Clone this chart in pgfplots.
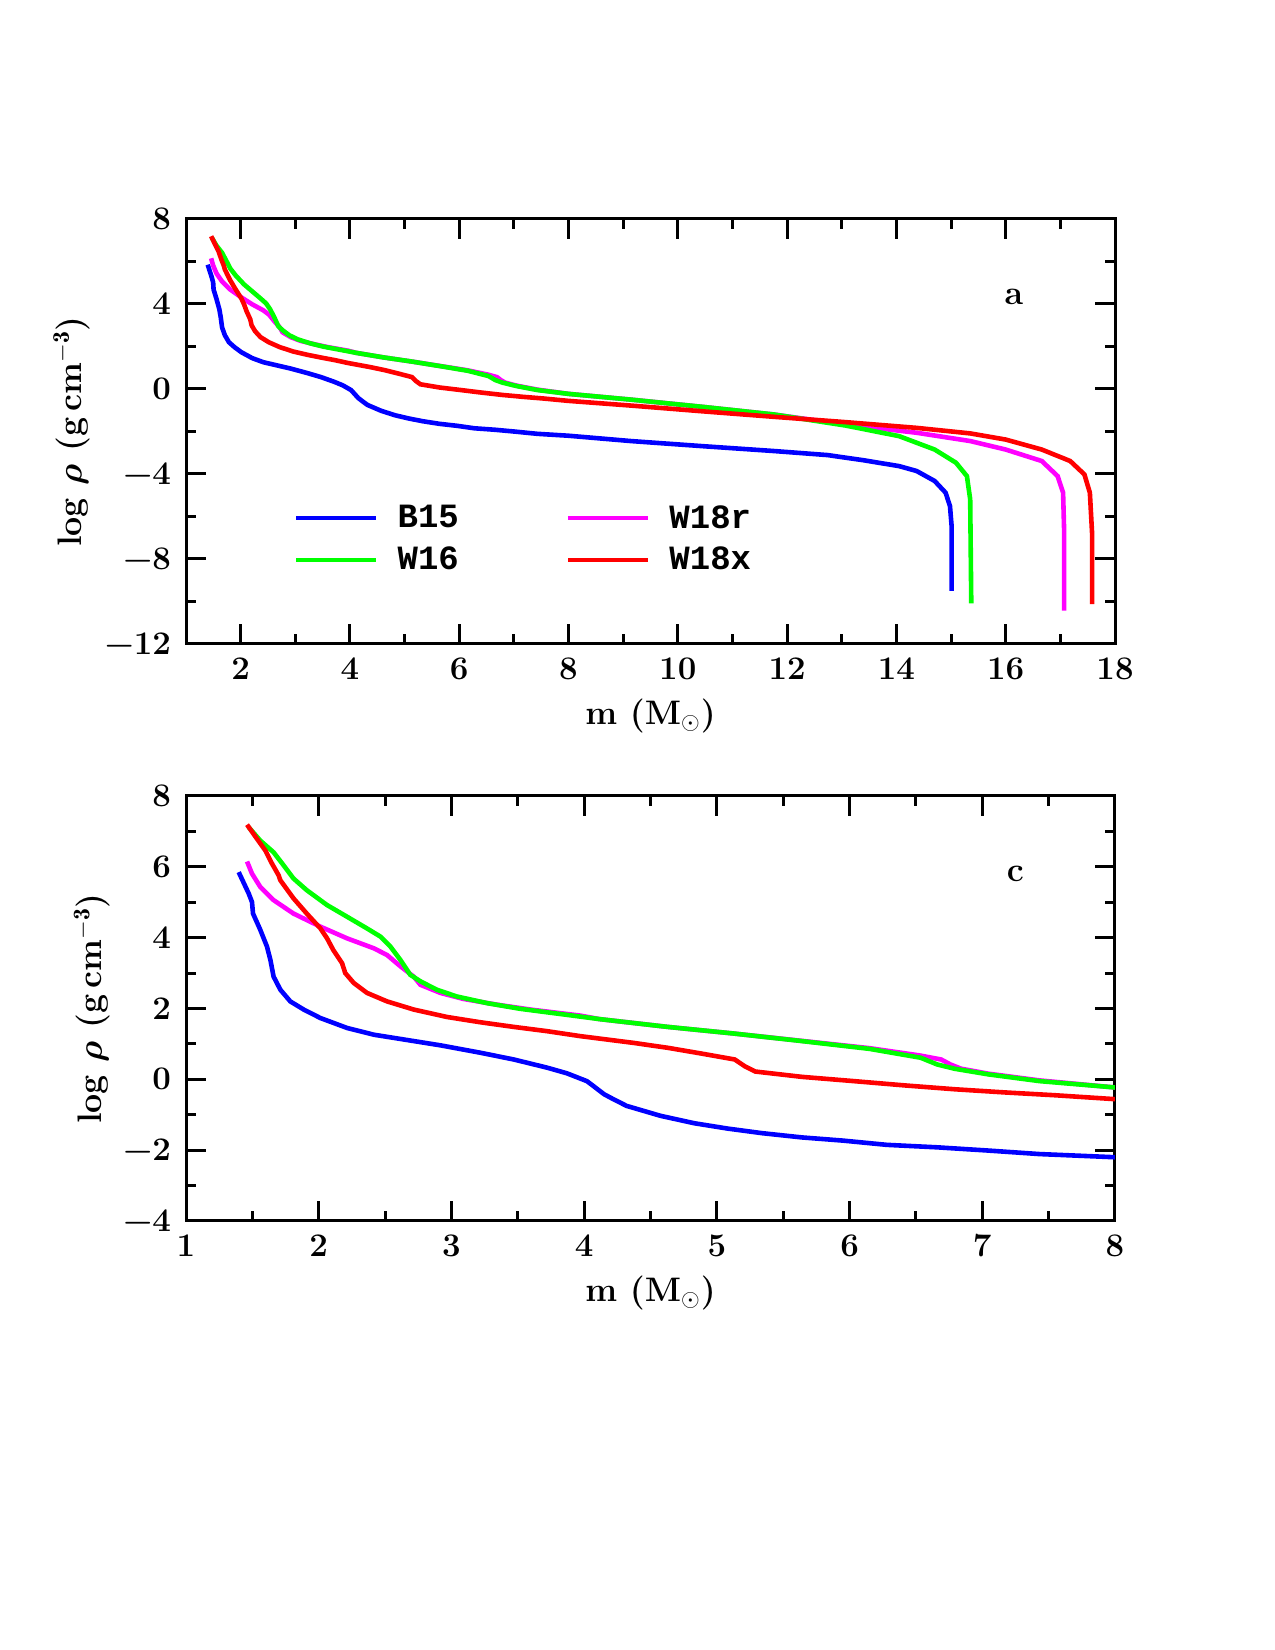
\documentclass[border=0pt]{standalone}
\usepackage{fontspec}
\setmonofont{Liberation Mono}
\usepackage{pgfplots}
\usepackage{pgfplotstable}
\pgfplotsset{compat=1.18}

\pgfplotstableread{
m y
1.397 5.85
1.472 5.25
1.497 5.01
1.505 4.68
1.56 4.22
1.61 3.75
1.636 3.37
1.66 2.90
1.711 2.53
1.786 2.20
1.887 1.97
2.013 1.73
2.214 1.45
2.415 1.26
2.616 1.14
2.917 0.96
3.219 0.75
3.47 0.56
3.72 0.33
3.87 0.17
4.02 -0.05
4.07 -0.19
4.15 -0.42
4.22 -0.56
4.32 -0.75
4.575 -1.03
4.83 -1.24
5.08 -1.39
5.34 -1.52
5.64 -1.64
5.95 -1.73
6.28 -1.85
6.66 -1.92
7.04 -2.01
7.43 -2.11
8.0 -2.20
9.14 -2.45
10.45 -2.69
11.76 -2.92
12.74 -3.11
13.39 -3.35
14.05 -3.63
14.37 -3.86
14.70 -4.33
14.90 -4.88
14.98 -5.51
15.01 -6.44
15.01 -9.50
}\blue

\pgfplotstableread{
m y
1.472 7.12
1.56 6.74
1.66 6.41
1.736 6.04
1.81 5.67
1.91 5.34
2.063 4.92
2.214 4.59
2.364 4.26
2.465 4.03
2.54 3.75
2.616 3.37
2.69 2.95
2.77 2.76
2.89 2.53
3.04 2.34
3.27 2.15
3.52 1.99
3.85 1.83
4.116 1.70
4.63 1.48
5.135 1.29
5.64 1.08
6.15 0.86
6.535 0.61
6.66 0.42
6.79 0.30
7.045 0.14
7.43 -0.05
8.0 -0.23
9.14 -0.50
10.45 -0.84
11.76 -1.20
13.07 -1.72
14.05 -2.22
14.70 -2.85
15.09 -3.47
15.29 -4.10
15.35 -5.19
15.37 -10.09
}\green

\pgfplotstableread{
m y
1.46 6.15
1.497 5.81
1.56 5.43
1.66 5.06
1.81 4.68
2.013 4.31
2.214 3.98
2.415 3.70
2.515 3.51
2.616 3.19
2.716 2.90
2.766 2.67
2.917 2.44
3.09 2.27
3.34 2.11
3.595 1.97
3.97 1.80
4.116 1.70
4.63 1.48
5.135 1.29
6.15 0.88
6.535 0.67
6.69 0.56
6.76 0.42
6.84 0.30
7.045 0.16
7.43 -0.03
8.0 -0.23
9.14 -0.50
10.45 -0.84
11.76 -1.20
13.07 -1.67
14.37 -2.06
15.35 -2.45
16.0 -2.85
16.66 -3.39
16.95 -4.10
17.05 -4.88
17.07 -6.76
17.07 -10.43
}\magenta

\pgfplotstableread{
m y
1.46 7.19
1.535 6.79
1.598 6.46
1.648 6.09
1.698 5.76
1.711 5.62
1.81 5.11
1.91 4.68
2.013 4.26
2.063 3.98
2.11 3.65
2.176 3.28
2.20 3.00
2.264 2.72
2.364 2.44
2.515 2.20
2.716 1.97
2.967 1.76
3.22 1.61
3.47 1.48
3.72 1.36
3.97 1.22
4.37 1.03
4.63 0.89
4.88 0.73
5.135 0.56
5.21 0.37
5.29 0.22
5.64 0.07
6.03 -0.05
6.41 -0.17
6.79 -0.28
7.17 -0.37
7.55 -0.45
8.0 -0.56
9.14 -0.78
10.45 -1.05
11.76 -1.31
13.07 -1.56
14.37 -1.83
15.35 -2.09
16.0 -2.38
16.66 -2.85
17.18 -3.39
17.44 -4.02
17.54 -4.88
17.58 -6.76
17.58 -10.12
}\red

\definecolor{cblue}{RGB}{0,0,255}
\definecolor{cgreen}{RGB}{0,255,0}
\definecolor{cmag}{RGB}{255,0,255}
\definecolor{cred}{RGB}{255,0,0}

\pgfplotsset{
  myaxis/.style={
    scale only axis,
    width=464.5pt, height=212.5pt,
    anchor=south west,
    axis line style={line width=1.5pt},
    every tick/.style={black, line width=1.5pt},
    tick align=inside,
    major tick length=10pt,
    minor tick length=5pt,
    xtick pos=both, ytick pos=both,
    ticklabel style={font=\bfseries\fontsize{16.5}{18}\selectfont},
    xticklabel style={yshift=-3.3pt},
    yticklabel style={xshift=-4pt},
    label style={font=\bfseries\fontsize{17}{19}\selectfont},
    xlabel={m (M$_\odot$)},
    ylabel={log $\boldsymbol{\rho}$ (g\,cm$^{\mathbf{-3}}$)},
    xlabel style={at={(axis description cs:0.5,0)}, anchor=center, yshift=-36pt},
    every axis plot/.append style={line width=2.3pt},
  }
}
\usepackage{amsmath}
\usepackage{bm}
\renewcommand{\boldsymbol}[1]{\bm{#1}}

\begin{document}
\begin{tikzpicture}
\useasboundingbox (0,0) rectangle (637.5pt,825pt);

\begin{axis}[myaxis, at={(93pt,503pt)},
  xmin=1, xmax=18, ymin=-12, ymax=8,
  xtick={2,4,6,8,10,12,14,16,18}, minor xtick={1,3,...,17},
  xticklabels={2,4,6,8,10,12,14,16,18},
  ytick={-12,-8,-4,0,4,8}, minor ytick={-10,-6,...,6},
  yticklabels={−12,−8,−4,0,4,8},
  ylabel style={at={(axis description cs:-0.123,0.5)}, anchor=center},
  legend columns=2,
  legend style={at={(axis cs:2.86,-7.06)}, anchor=west, draw=none, fill=none,
    font=\ttfamily\bfseries\fontsize{17}{19}\selectfont,
    nodes={inner sep=0pt},
    row sep=8pt,
    /tikz/every odd column/.append style={column sep=9.5pt},
    /tikz/every even column/.append style={column sep=53.5pt}},
  legend image code/.code={\draw[#1] (0pt,0pt) -- (40pt,0pt);},
]
\addlegendimage{cblue, line width=2.3pt}\addlegendentry{B15}
\addlegendimage{cmag, line width=2.3pt}\addlegendentry{W18r}
\addlegendimage{cgreen, line width=2.3pt}\addlegendentry{W16}
\addlegendimage{cred, line width=2.3pt}\addlegendentry{W18x}
\addplot[cblue, forget plot] table[x=m,y=y] {\blue};
\addplot[cmag, forget plot] table[x=m,y=y] {\magenta};
\addplot[cgreen, forget plot] table[x=m,y=y] {\green};
\addplot[cred, forget plot] table[x=m,y=y] {\red};
\node[font=\bfseries\fontsize{17}{19}\selectfont] at (axis cs:16.15,4.33) {a};
\end{axis}

\begin{axis}[myaxis, at={(93pt,214.5pt)},
  xmin=1, xmax=8, ymin=-4, ymax=8,
  xtick={1,2,3,4,5,6,7,8}, minor xtick={1.5,2.5,...,7.5},
  xticklabels={1,2,3,4,5,6,7,8},
  ytick={-4,-2,0,2,4,6,8}, minor ytick={-3,-1,...,7},
  yticklabels={−4,−2,0,2,4,6,8},
  ylabel style={at={(axis description cs:-0.101,0.5)}, anchor=center},
]
\addplot[cblue] table[x=m,y=y] {\blue};
\addplot[cmag] table[x=m,y=y] {\magenta};
\addplot[cgreen] table[x=m,y=y] {\green};
\addplot[cred] table[x=m,y=y] {\red};
\node[font=\bfseries\fontsize{17}{19}\selectfont] at (axis cs:7.25,5.8) {c};
\end{axis}
\end{tikzpicture}
\end{document}
